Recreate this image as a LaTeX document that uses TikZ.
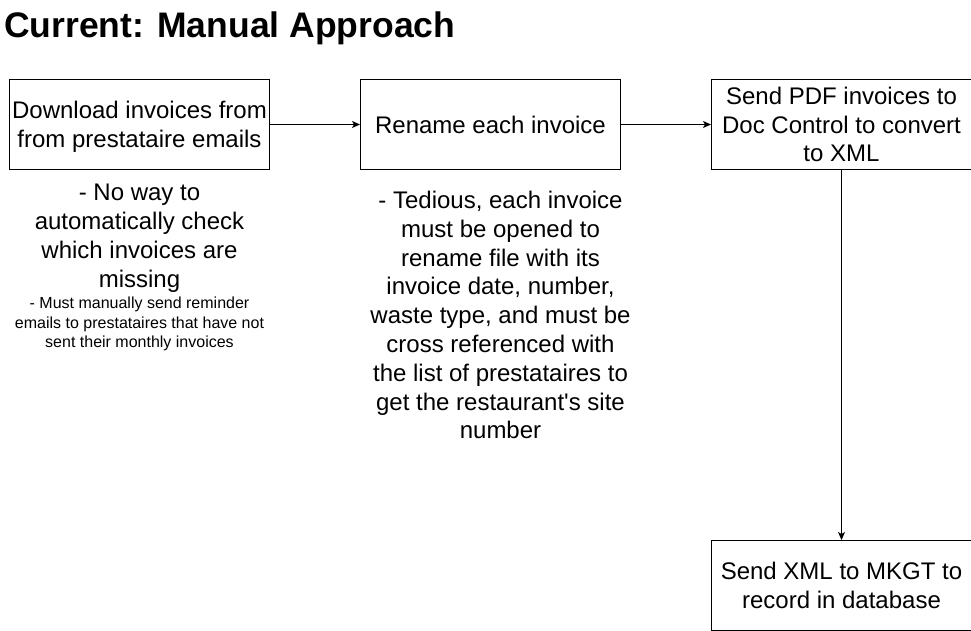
\documentclass[tikz,border=0pt]{standalone}
\usepackage{fontspec}
\setmainfont{Liberation Sans}
\usepackage{tikz}
\usetikzlibrary{
  arrows.meta,
  positioning
}
\newcommand{\bigtext}{\fontsize{24}{28.8}\selectfont}
\newcommand{\smalltext}{\fontsize{16}{19.5}\selectfont}

\begin{document}
\begin{tikzpicture}[
  x=1pt, y=-1pt,
  font=\bigtext,
  stepbox/.style={draw=black, line width=1pt, minimum width=260pt, minimum height=90pt, inner sep=0pt, align=center},
  note/.style={inner sep=0pt, align=center},
  flow/.style={-{Stealth[length=8pt,width=7pt,inset=2pt]}, line width=1pt}
]
\useasboundingbox (0,0) rectangle (971,631);
\node[anchor=base west, inner sep=0pt, font=\fontsize{35.5}{40}\selectfont\bfseries] (title) at (4,38) {Current: Manual Approach};

\node[stepbox, text depth=0pt] (dl) at (139.5,124.5) {Download invoices from\\from prestataire emails};
\node[stepbox, right=90pt of dl] (rn) {Rename each invoice};
\node[stepbox, right=90pt of rn] (conv) {Send PDF invoices to\\Doc Control to convert\\to XML};
\node[stepbox, below=370pt of conv] (db) {Send XML to MKGT to\\record in database};

\node[note, below=14pt of dl] (missing) {- No way to\\automatically check\\which invoices are\\missing};
\node[note, font=\smalltext, below=4.6pt of missing] (remind) {- Must manually send reminder\\emails to prestataires that have not\\sent their monthly invoices};
\node[note, below=21pt of rn, xshift=10pt] (tedious) {- Tedious, each invoice\\must be opened to\\rename file with its\\invoice date, number,\\waste type, and must be\\cross referenced with\\the list of prestataires to\\get the restaurant\textquotesingle s site\\number};

\draw[flow] (dl) -- (rn);
\draw[flow] (rn) -- (conv);
\draw[flow] (conv) -- (db);
\end{tikzpicture}
\end{document}
